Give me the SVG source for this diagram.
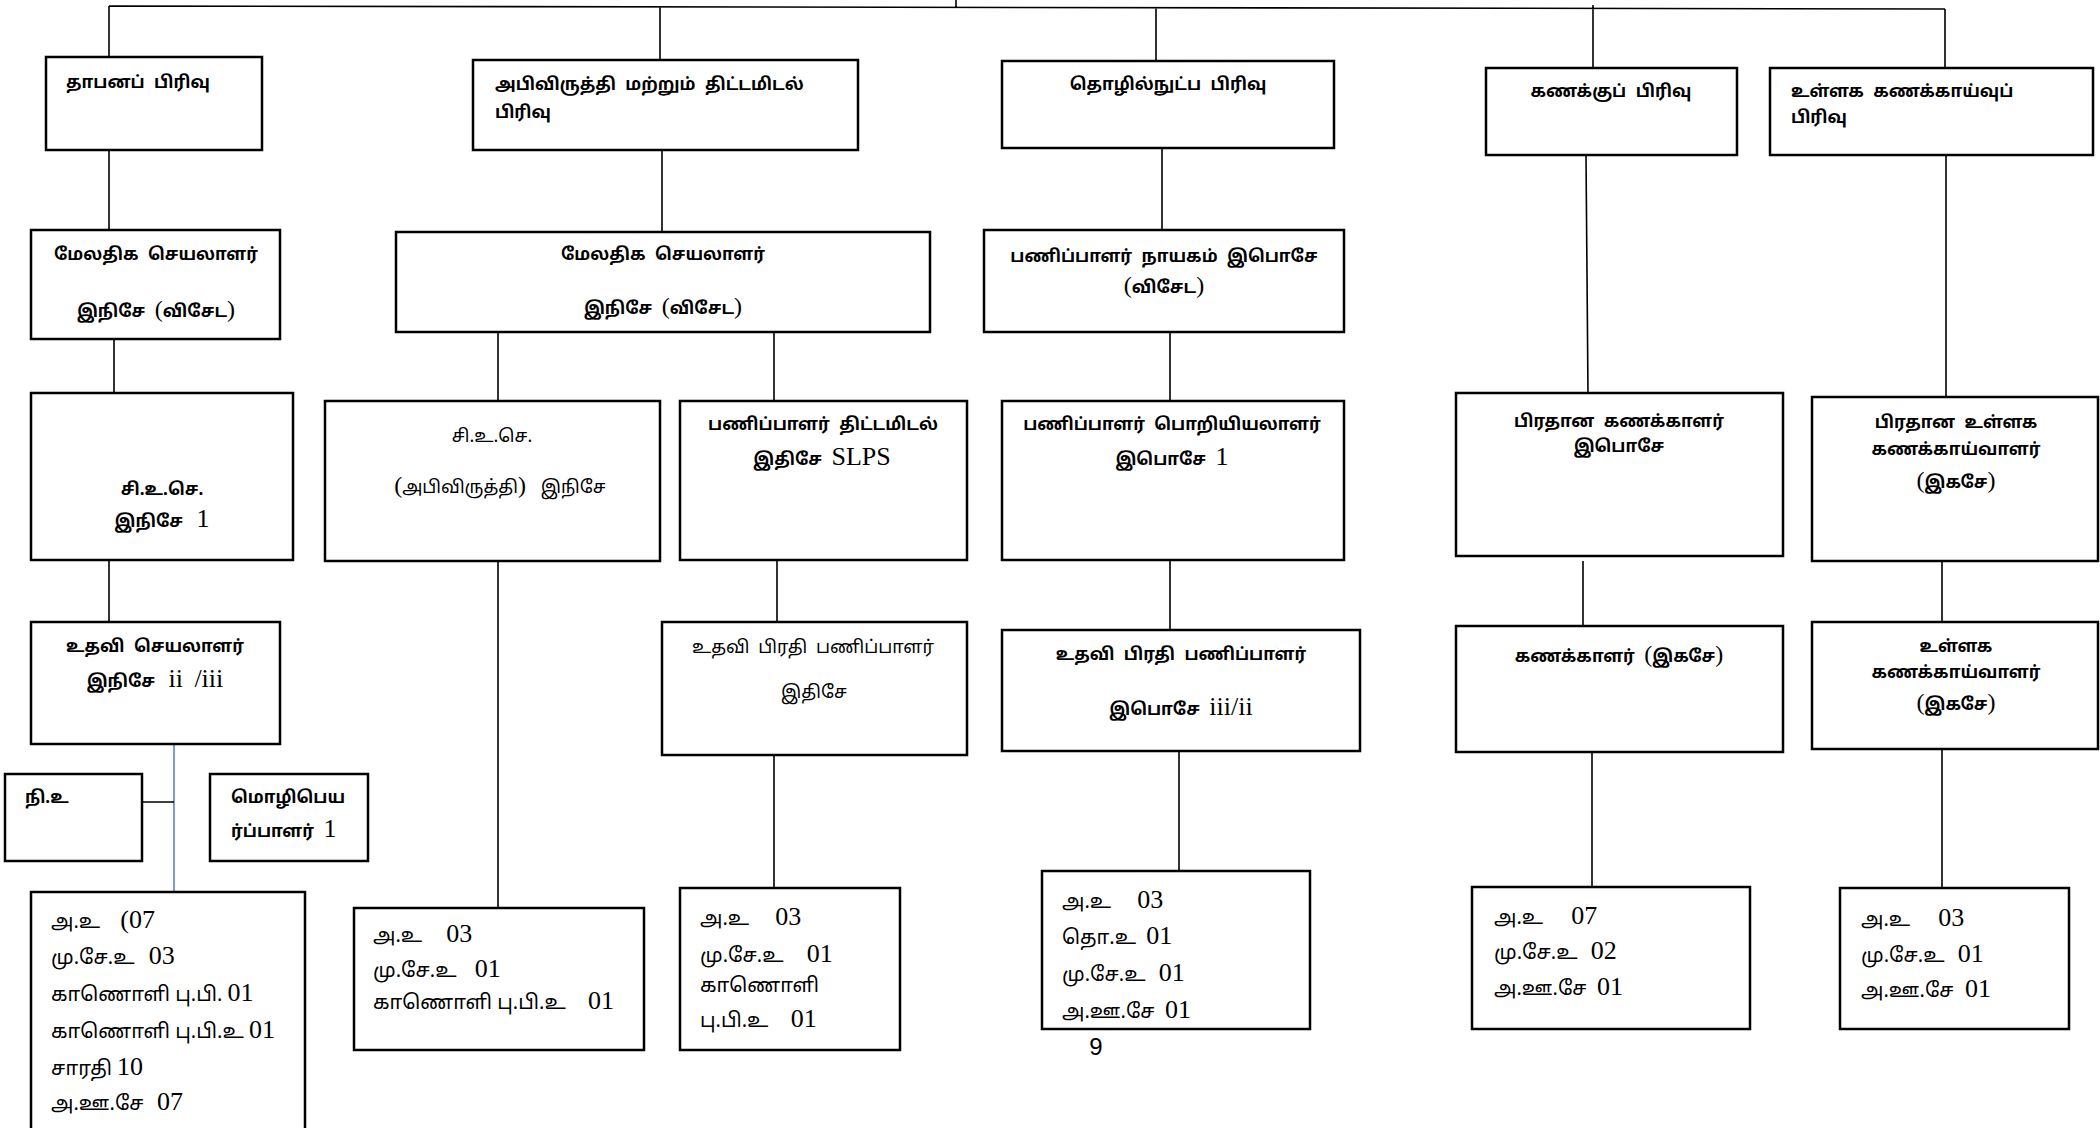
<svg xmlns="http://www.w3.org/2000/svg" width="2100" height="1128" viewBox="0 0 2100 1128">
<style>
.box{fill:#fff;stroke:#000;stroke-width:2.5}
.ln{stroke:#000;stroke-width:1.6;fill:none}
.blue{stroke:#4472C4;stroke-width:1.4;fill:none}
text{font-family:"Noto Sans Tamil","Lohit Tamil","Noto Sans",sans-serif;fill:#000}
.b{font-weight:700;font-size:17px;word-spacing:5px}
.r{font-weight:400;font-size:18px;word-spacing:4px}
.s{font-weight:400;font-size:20px}
.c{text-anchor:middle}
.n{font-family:"Liberation Serif","Times New Roman",serif;font-weight:400;font-size:26px}
.p{font-family:"Liberation Serif","Times New Roman",serif;font-weight:400;font-size:24px}
.pg{font-family:"Liberation Sans",Arial,sans-serif;font-size:24px}
</style>
<rect width="2100" height="1128" fill="#fff"/>
<g id="connectors">
<path class="ln" d="M956,0V8 M109,6L1945,9 M109,6V57 M660,7V60 M1156,8V61 M1593,5V68 M1945,9V68"/>
<path class="ln" d="M109,150V230 M662,150V232 M1162,148V230 M1586,155L1588,393 M1946,155V397"/>
<path class="ln" d="M114,339V393 M498,332V401 M774,332V401 M1170,332V401"/>
<path class="ln" d="M109,560V622 M498,561V908 M777,560V622 M1170,560V630 M1583,561V626 M1942,561V622"/>
<path class="blue" d="M174,744V892"/>
<path class="ln" d="M142,802H174 M774,755V888 M1179,751V871 M1592,752V887 M1942,749V888"/>
</g>
<g id="n1"><rect class="box" x="46" y="57" width="216" height="93"/><text class="b" x="66" y="88">தாபனப் பிரிவு</text></g>
<g id="n2"><rect class="box" x="473" y="60" width="385" height="90"/><text class="b" x="495" y="90">அபிவிருத்தி மற்றும் திட்டமிடல்</text><text class="b" x="495" y="118">பிரிவு</text></g>
<g id="n3"><rect class="box" x="1002" y="61" width="332" height="87"/><text class="b c" x="1168" y="90">தொழில்நுட்ப பிரிவு</text></g>
<g id="n4"><rect class="box" x="1486" y="68" width="251" height="87"/><text class="b c" x="1611" y="97">கணக்குப் பிரிவு</text></g>
<g id="n5"><rect class="box" x="1770" y="68" width="323" height="87"/><text class="b" x="1791" y="97">உள்ளக கணக்காய்வுப்</text><text class="b" x="1791" y="123">பிரிவு</text></g>
<g id="n6"><rect class="box" x="31" y="230" width="249" height="109"/><text class="b c" x="156" y="260">மேலதிக செயலாளர்</text><text class="b c" x="156" y="317">இநிசே <tspan class="p">(</tspan>விசேட<tspan class="p">)</tspan></text></g>
<g id="n7"><rect class="box" x="396" y="232" width="534" height="100"/><text class="b c" x="663" y="260">மேலதிக செயலாளர்</text><text class="b c" x="663" y="314">இநிசே <tspan class="p">(</tspan>விசேட<tspan class="p">)</tspan></text></g>
<g id="n8"><rect class="box" x="984" y="230" width="360" height="102"/><text class="b c" x="1164" y="262">பணிப்பாளர் நாயகம் இபொசே</text><text class="b c" x="1164" y="293"><tspan class="p">(</tspan>விசேட<tspan class="p">)</tspan></text></g>
<g id="n9"><rect class="box" x="31" y="393" width="262" height="167"/><text class="b c" x="162" y="495">சி.உ.செ.</text><text class="b c" x="162" y="527">இநிசே <tspan class="n" font-weight="700" font-size="22" dx="4">1</tspan></text></g>
<g id="n10"><rect class="box" x="325" y="401" width="335" height="160"/><text class="r c" x="492" y="442">சி.உ.செ.</text><text class="r c" x="500" y="493"><tspan class="p">(</tspan>அபிவிருத்தி<tspan class="p">)</tspan> <tspan dx="6">இநிசே</tspan></text></g>
<g id="n11"><rect class="box" x="680" y="401" width="287" height="159"/><text class="b c" x="823" y="430">பணிப்பாளர் திட்டமிடல்</text><text class="b c" x="822" y="465">இதிசே <tspan class="n">SLPS</tspan></text></g>
<g id="n12"><rect class="box" x="1002" y="401" width="342" height="159"/><text class="b c" x="1172" y="430">பணிப்பாளர் பொறியியலாளர்</text><text class="b c" x="1172" y="465">இபொசே <tspan class="n">1</tspan></text></g>
<g id="n13"><rect class="box" x="1456" y="393" width="327" height="163"/><text class="b c" x="1619" y="427">பிரதான கணக்காளர்</text><text class="b c" x="1619" y="452">இபொசே</text></g>
<g id="n14"><rect class="box" x="1812" y="397" width="286" height="164"/><text class="b c" x="1956" y="428">பிரதான உள்ளக</text><text class="b c" x="1956" y="455">கணக்காய்வாளர்</text><text class="b c" x="1956" y="488"><tspan class="p">(</tspan>இகசே<tspan class="p">)</tspan></text></g>
<g id="n15"><rect class="box" x="31" y="622" width="249" height="122"/><text class="b c" x="155" y="652">உதவி செயலாளர்</text><text class="b c" x="155" y="687">இநிசே <tspan class="n" dx="4">ii /iii</tspan></text></g>
<g id="n16"><rect class="box" x="662" y="622" width="305" height="133"/><text class="r c" x="813" y="653">உதவி பிரதி பணிப்பாளர்</text><text class="r c" x="814" y="698">இதிசே</text></g>
<g id="n17"><rect class="box" x="1002" y="630" width="358" height="121"/><text class="b c" x="1181" y="660">உதவி பிரதி பணிப்பாளர்</text><text class="b c" x="1181" y="715">இபொசே <tspan class="n">iii/ii</tspan></text></g>
<g id="n18"><rect class="box" x="1456" y="626" width="327" height="126"/><text class="b c" x="1619" y="662">கணக்காளர் <tspan class="p">(</tspan>இகசே<tspan class="p">)</tspan></text></g>
<g id="n19"><rect class="box" x="1812" y="622" width="286" height="127"/><text class="b c" x="1956" y="652">உள்ளக</text><text class="b c" x="1956" y="678">கணக்காய்வாளர்</text><text class="b c" x="1956" y="710"><tspan class="p">(</tspan>இகசே<tspan class="p">)</tspan></text></g>
<g id="n20"><rect class="box" x="5" y="774" width="137" height="87"/><text class="b" x="25" y="803">நி.உ</text></g>
<g id="n21"><rect class="box" x="210" y="774" width="158" height="87"/><text class="b" x="231" y="803">மொழிபெய</text><text class="b" x="231" y="837">ர்ப்பாளர் <tspan class="n">1</tspan></text></g>
<g id="n22"><rect class="box" x="31" y="892" width="274" height="250"/><text class="s" x="51" y="928">அ.உ <tspan class="n" dx="15">(07</tspan></text><text class="s" x="51" y="964">மு.சே.உ <tspan class="n" dx="9">03</tspan></text><text class="s" x="51" y="1001">காணொளி பு.பி. <tspan class="n">01</tspan></text><text class="s" x="51" y="1038">காணொளி பு.பி.உ <tspan class="n">01</tspan></text><text class="s" x="51" y="1075">சாரதி <tspan class="n">10</tspan></text><text class="s" x="51" y="1110">அ.ஊ.சே <tspan class="n" dx="8">07</tspan></text></g>
<g id="n23"><rect class="box" x="354" y="908" width="290" height="142"/><text class="s" x="373" y="942">அ.உ <tspan class="n" dx="19">03</tspan></text><text class="s" x="373" y="977">மு.சே.உ <tspan class="n" dx="13">01</tspan></text><text class="s" x="373" y="1009">காணொளி பு.பி.உ <tspan class="n" dx="17">01</tspan></text></g>
<g id="n24"><rect class="box" x="680" y="888" width="220" height="162"/><text class="s" x="700" y="925">அ.உ <tspan class="n" dx="21">03</tspan></text><text class="s" x="700" y="962">மு.சே.உ <tspan class="n" dx="18">01</tspan></text><text class="s" x="700" y="992">காணொளி</text><text class="s" x="700" y="1027">பு.பி.உ <tspan class="n" dx="17">01</tspan></text></g>
<g id="n25"><rect class="box" x="1042" y="871" width="268" height="158"/><text class="s" x="1062" y="908">அ.உ <tspan class="n" dx="21">03</tspan></text><text class="s" x="1062" y="944">தொ.உ <tspan class="n" dx="5">01</tspan></text><text class="s" x="1062" y="981">மு.சே.உ <tspan class="n" dx="8">01</tspan></text><text class="s" x="1062" y="1018">அ.ஊ.சே <tspan class="n" dx="5">01</tspan></text></g>
<g id="n26"><rect class="box" x="1472" y="887" width="278" height="142"/><text class="s" x="1494" y="924">அ.உ <tspan class="n" dx="23">07</tspan></text><text class="s" x="1494" y="959">மு.சே.உ <tspan class="n" dx="8">02</tspan></text><text class="s" x="1494" y="995">அ.ஊ.சே <tspan class="n" dx="5">01</tspan></text></g>
<g id="n27"><rect class="box" x="1840" y="888" width="229" height="141"/><text class="s" x="1861" y="926">அ.உ <tspan class="n" dx="23">03</tspan></text><text class="s" x="1861" y="962">மு.சே.உ <tspan class="n" dx="8">01</tspan></text><text class="s" x="1861" y="997">அ.ஊ.சே <tspan class="n" dx="6">01</tspan></text></g>
<text class="pg c" x="1096" y="1055">9</text>
</svg>
